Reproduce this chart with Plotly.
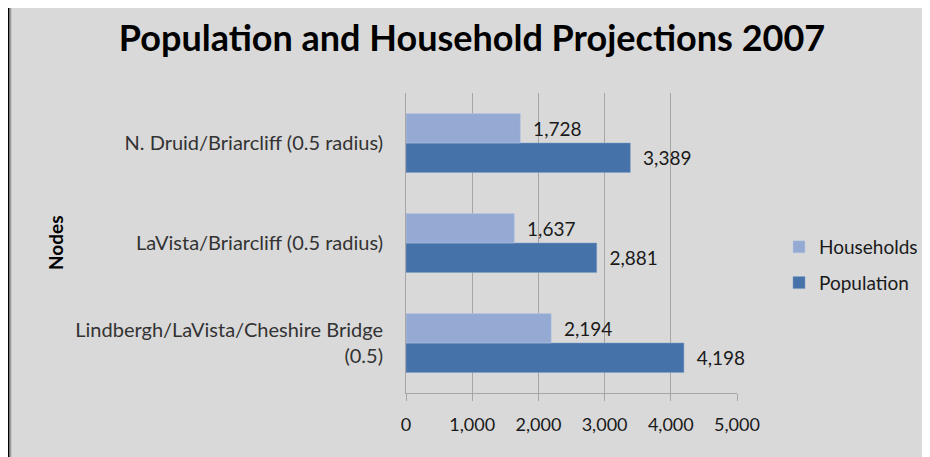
import plotly.graph_objs as go

# categories listed bottom to top
nodes = [
    "Lindbergh/LaVista/Cheshire Bridge<br>(0.5)",
    "LaVista/Briarcliff (0.5 radius)",
    "N. Druid/Briarcliff (0.5 radius)",
]
population = [4198, 2881, 3389]
households = [2194, 1637, 1728]
x_ticks = [0, 1000, 2000, 3000, 4000, 5000]

FONT = "Lato, 'Open Sans', sans-serif"
TXT = "#1a1a1a"

# page body has an 8px margin, so the figure starts at (8, 8) on screen
OFF = 8
SW, SH = 930, 457          # screen size
W, H = SW - OFF, SH - OFF  # figure size
# plot area in screen pixels
L, R, T, B = 406, 737, 93, 393


def px(x):
    return (x - L) / (R - L)


def py(y):
    return (B - y) / (B - T)


PAD = "\u00a0\u00a0"

fig = go.Figure()
fig.add_trace(go.Bar(
    y=nodes, x=population, orientation='h', name='Population',
    legendgroup='pop', legendrank=2,
    marker=dict(color='#4572A8', line=dict(color='#7f9fc8', width=0.5)),
    text=[PAD + f"{v:,}" for v in population], textposition='outside',
    textfont=dict(family=FONT, size=19, color=TXT), cliponaxis=False
))
fig.add_trace(go.Bar(
    y=nodes, x=households, orientation='h', name='Households',
    legendgroup='hh', legendrank=1,
    marker=dict(color='#95AAD2', line=dict(color='#b8c8e4', width=0.5)),
    text=[PAD + f"{v:,}" for v in households], textposition='outside',
    textfont=dict(family=FONT, size=19, color=TXT), cliponaxis=False
))

fig.update_layout(
    width=W, height=H,
    margin=dict(l=L - OFF, r=SW - R, t=T - OFF, b=SH - B, autoexpand=False),
    paper_bgcolor='white',
    plot_bgcolor='white',
    barmode='group',
    bargap=0.41,
    bargroupgap=0,
    title=dict(
        text="<b>Population and Household Projections 2007</b>",
        x=(472 - OFF) / W, xanchor='center', y=1 - (38 - OFF) / H, yanchor='middle',
        font=dict(family=FONT, size=36, color='black')
    ),
    xaxis=dict(
        range=[0, 5000], tickvals=x_ticks, ticktext=[f"{v:,}" for v in x_ticks],
        showgrid=True, gridcolor='#a6a6a6', gridwidth=1,
        showline=True, linecolor='#a6a6a6', linewidth=1,
        ticks='outside', ticklen=7, tickcolor='#a6a6a6',
        ticklabelstandoff=8, automargin=False,
        tickfont=dict(family=FONT, size=18, color=TXT),
        zeroline=False, fixedrange=True
    ),
    yaxis=dict(
        showgrid=False, ticks='', ticklabelstandoff=18, automargin=False,
        showline=True, linecolor='#a6a6a6', linewidth=1,
        tickfont=dict(family=FONT, size=20, color='#333333'),
        fixedrange=True
    ),
    showlegend=True,
    legend=dict(
        x=px(779), y=py(228), xanchor='left', yanchor='top',
        traceorder='grouped', tracegroupgap=8,
        bgcolor='rgba(0,0,0,0)',
        font=dict(family=FONT, size=19, color=TXT)
    ),
    annotations=[dict(
        text="<b>Nodes</b>", textangle=-90,
        x=px(55), y=py(243), xref='paper', yref='paper',
        xanchor='center', yanchor='middle',
        showarrow=False, font=dict(family=FONT, size=19, color='black')
    )],
    shapes=[
        # gray chart area with black frame
        dict(type='rect', xref='paper', yref='paper', layer='below',
             x0=px(8), x1=px(SW + 10), y0=py(SH + 10), y1=py(5.5),
             fillcolor='#d9d9d9', line=dict(color='black', width=3)),
        dict(type='line', xref='paper', yref='paper', layer='below',
             x0=px(10.5), x1=px(10.5), y0=py(SH + 10), y1=py(7),
             line=dict(color='#9a9a9a', width=1.5)),
    ],
)

fig.write_html("out.html")
